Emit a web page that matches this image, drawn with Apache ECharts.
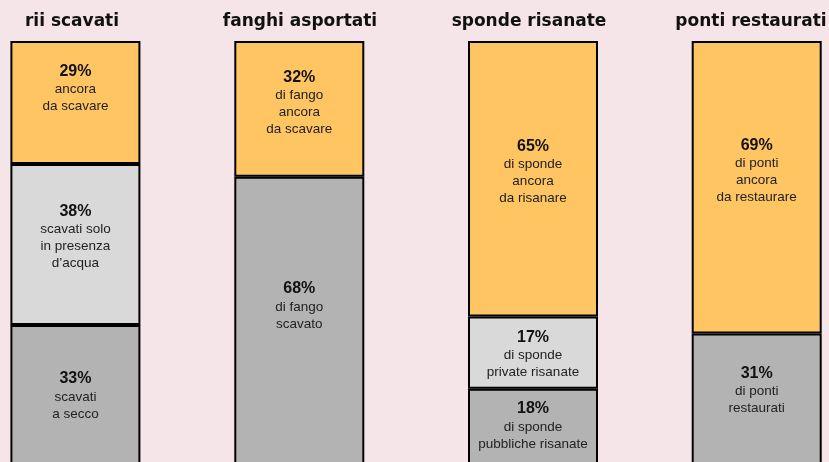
<!DOCTYPE html>
<html><head><meta charset="utf-8">
<script src="https://cdn.jsdelivr.net/npm/echarts@6/dist/echarts.min.js"></script>
<style>html,body{margin:0;padding:0;background:#F5E5E9}#c{width:829px;height:462px}</style>
</head><body><div id="c"></div>
<script>
// Data
const categories = ['rii scavati', 'fanghi asportati', 'sponde risanate', 'ponti restaurati'];
// stacked layers, bottom -> top (percent)
const bottomValues = [33, 68, 18, 31];
const middleValues = [38, 0, 17, 0];
const topValues = [29, 32, 65, 69];
const bottomTexts = [['scavati', 'a secco'], ['di fango', 'scavato'], ['di sponde', 'pubbliche risanate'], ['di ponti', 'restaurati']];
const middleTexts = [['scavati solo', 'in presenza', 'd\u2019acqua'], [], ['di sponde', 'private risanate'], []];
const topTexts = [['ancora', 'da scavare'], ['di fango', 'ancora', 'da scavare'], ['di sponde', 'ancora', 'da risanare'], ['di ponti', 'ancora', 'da restaurare']];

// Layout / style
const gridLefts = [10.4, 234.3, 468, 691.7];
const titleCenters = [72, 300, 529, 751];
const barW = 130;
const nudge = { bottom: [1, -15, -1, -9], middle: [-7.5, 0, 2, 0], top: [-14, -6, -7, -16] };
const colors = { bottom: '#B3B3B3', middle: '#D9D9D9', top: '#FFC562' };

const layers = [
  { key: 'bottom', values: bottomValues, texts: bottomTexts },
  { key: 'middle', values: middleValues, texts: middleTexts },
  { key: 'top', values: topValues, texts: topTexts }
];

const grid = [], xAxis = [], yAxis = [], series = [];
categories.forEach((cat, i) => {
  grid.push({ left: gridLefts[i], width: barW, top: 41, height: 424, containLabel: false, outerBoundsMode: 'none' });
  xAxis.push({
    type: 'category', gridIndex: i, data: [cat], position: 'top',
    axisLine: { show: false }, axisTick: { show: false }, axisLabel: { show: false }
  });
  yAxis.push({ type: 'value', gridIndex: i, min: 0, max: 100, show: false });
  layers.forEach(layer => {
    const v = layer.values[i];
    if (!v) return;
    const lines = ['{p|' + v + '%}'].concat(layer.texts[i].map(t => '{t|' + t + '}'));
    series.push({
      type: 'bar', xAxisIndex: i, yAxisIndex: i, stack: 'g' + i,
      barWidth: '100%', animation: false,
      itemStyle: { color: colors[layer.key], borderColor: '#000', borderWidth: 2 },
      label: {
        show: true, position: 'inside', offset: [0, nudge[layer.key][i]],
        formatter: lines.join('\n'),
        rich: {
          p: { fontFamily: "'Liberation Sans', Arial", fontWeight: 'bold', fontSize: 16, color: '#111', lineHeight: 19 },
          t: { fontFamily: "'Liberation Sans', Arial", fontSize: 13.5, color: '#222', lineHeight: 17 }
        }
      },
      data: [v]
    });
  });
});

const graphic = categories.map((cat, i) => ({
  type: 'text', x: titleCenters[i], y: 22, silent: true,
  style: { text: cat, align: 'center', verticalAlign: 'middle', font: "bold 17px 'DejaVu Sans'", fill: '#111' }
}));

const chart = echarts.init(document.getElementById('c'), null, { renderer: 'canvas' });
chart.setOption({ backgroundColor: '#F5E5E9', animation: false, grid, xAxis, yAxis, series, graphic });
</script>
</body></html>
